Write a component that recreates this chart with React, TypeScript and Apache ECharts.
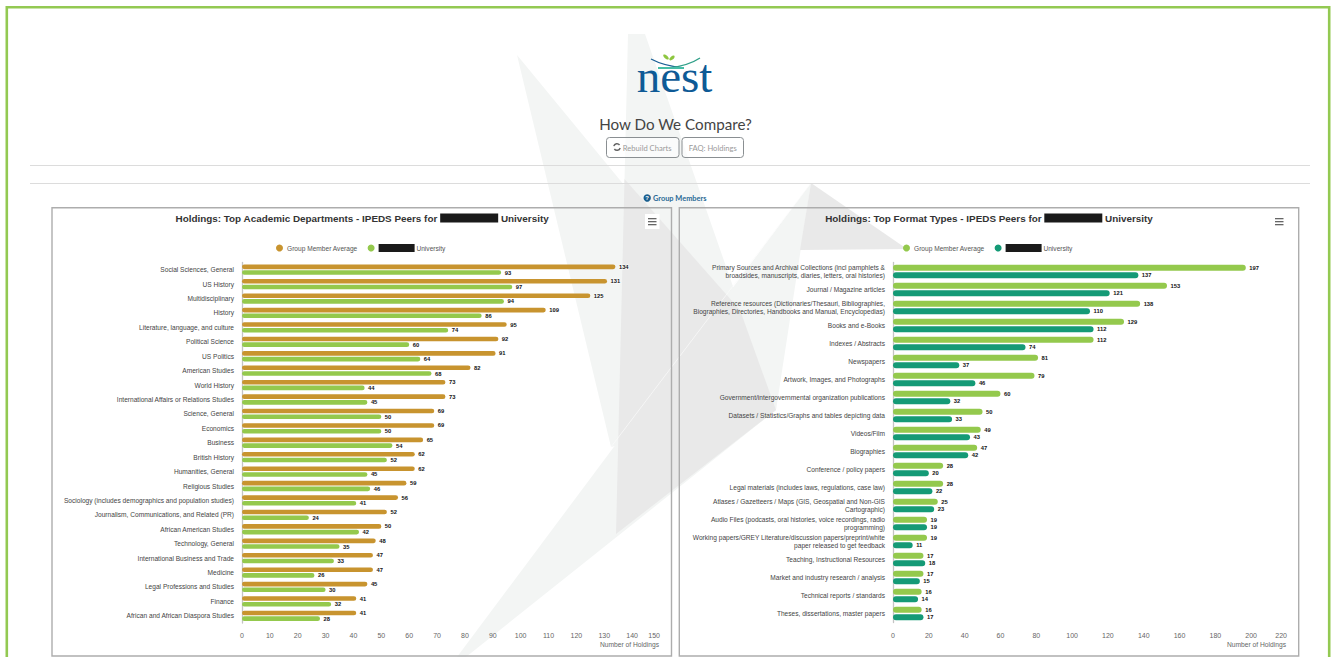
import React, { useEffect, useRef } from "react";
import * as echarts from "echarts";

const FONT = '"Liberation Sans", Arial, sans-serif';
const PAGE_FONT = 'Lato, "Noto Sans", sans-serif';

const deptCategories = [
  "Social Sciences, General", "US History", "Multidisciplinary", "History",
  "Literature, language, and culture", "Political Science", "US Politics", "American Studies",
  "World History", "International Affairs or Relations Studies", "Science, General", "Economics",
  "Business", "British History", "Humanities, General", "Religious Studies",
  "Sociology (includes demographics and population studies)", "Journalism, Communications, and Related (PR)",
  "African American Studies", "Technology, General", "International Business and Trade", "Medicine",
  "Legal Professions and Studies", "Finance", "African and African Diaspora Studies",
];
const deptAverage = [134, 131, 125, 109, 95, 92, 91, 82, 73, 73, 69, 69, 65, 62, 62, 59, 56, 52, 50, 48, 47, 47, 45, 41, 41];
const deptUniversity = [93, 97, 94, 86, 74, 60, 64, 68, 44, 45, 50, 50, 54, 52, 45, 46, 41, 24, 42, 35, 33, 26, 30, 32, 28];

const formatCategories = [
  "Primary Sources and Archival Collections (incl pamphlets &\nbroadsides, manuscripts, diaries, letters, oral histories)",
  "Journal / Magazine articles",
  "Reference resources (Dictionaries/Thesauri, Bibliographies,\nBiographies, Directories, Handbooks and Manual, Encyclopedias)",
  "Books and e-Books", "Indexes / Abstracts", "Newspapers", "Artwork, Images, and Photographs",
  "Government/intergovernmental organization publications",
  "Datasets / Statistics/Graphs and tables depicting data", "Videos/Film", "Biographies",
  "Conference / policy papers", "Legal materials (includes laws, regulations, case law)",
  "Atlases / Gazetteers / Maps (GIS, Geospatial and Non-GIS\nCartographic)",
  "Audio Files (podcasts, oral histories, voice recordings, radio\nprogramming)",
  "Working papers/GREY Literature/discussion papers/preprint/white\npaper released to get feedback",
  "Teaching, Instructional Resources", "Market and industry research / analysis",
  "Technical reports / standards", "Theses, dissertations, master papers",
];
const formatAverage = [197, 153, 138, 129, 112, 81, 79, 60, 50, 49, 47, 28, 28, 25, 19, 19, 17, 17, 16, 16];
const formatUniversity = [137, 121, 110, 112, 74, 37, 46, 32, 33, 43, 42, 20, 22, 23, 19, 11, 18, 15, 14, 17];

function chartOption(c: any) {
  const series = [
    { name: "Group Member Average", data: c.a, color: c.colorA },
    { name: "University", data: c.b, color: c.colorB },
  ].map((s) => ({
    type: "bar",
    name: s.name,
    data: s.data,
    barWidth: c.barWidth,
    barGap: c.barGap,
    itemStyle: { color: s.color, borderRadius: c.barWidth / 2 },
    label: {
      show: true, position: "right", distance: 3.5,
      fontFamily: FONT, fontSize: 5.8, fontWeight: "bold", color: "#111",
      textBorderColor: "#fff", textBorderWidth: 1,
    },
  }));
  return {
    animation: false,
    title: {
      text: `${c.title} {r|} University`,
      left: "center", top: 1,
      textStyle: {
        fontFamily: FONT, fontSize: 9.9, fontWeight: "bold", color: "#333",
        rich: { r: { backgroundColor: "#1a1a1a", width: 58, height: 9 } },
      },
    },
    legend: {
      left: c.legendLeft, top: 32, itemWidth: 7, itemHeight: 7, itemGap: 10,
      icon: "circle",
      textStyle: {
        fontFamily: FONT, fontSize: 6.6, color: "#555", padding: [0, 0, 0, -1],
        rich: { r: { backgroundColor: "#1a1a1a", width: 36, height: 8 } },
      },
      formatter: (n: string) => (n === "University" ? "{r|} University" : n),
    },
    grid: { left: c.gridLeft, top: 55.5, width: c.gridWidth, height: c.gridHeight },
    xAxis: {
      type: "value", min: 0, max: c.max, interval: c.interval,
      splitLine: { show: false }, axisLine: { show: false }, axisTick: { show: false },
      axisLabel: { fontFamily: FONT, fontSize: 7, color: "#666", margin: 9, alignMaxLabel: "right" },
      name: "Number of Holdings", nameLocation: "end", nameGap: 0,
      nameTextStyle: {
        fontFamily: FONT, fontSize: 6.7, color: "#666",
        align: "right", verticalAlign: "top", padding: [18, 1, 0, 0],
      },
    },
    yAxis: {
      type: "category", inverse: true, data: c.categories,
      axisLine: { show: true, lineStyle: { color: "#c4c4c4", width: 1.3 } },
      axisTick: { show: false },
      axisLabel: { fontFamily: FONT, fontSize: 6.6, color: "#444", margin: 8, lineHeight: 7.7, align: "right" },
    },
    graphic: {
      elements: [
        ...(c.menuBg ? [{ type: "rect", x: c.menuX - 3, y: 7, shape: { width: 14.5, height: 15 }, style: { fill: "#fff" } }] : []),
        ...[11, 14, 17].map((y) => ({
          type: "rect", x: c.menuX, y, shape: { width: 8.5, height: 1.3 }, style: { fill: "#666" },
        })),
      ],
    },
    series,
  };
}

const BG_SOFT = "#f3f5f4";
const BG_DARK = "#e9e9e9";
const txt = (x: number, y: number, text: string, font: string, fill: string, align = "left") => ({
  type: "text", x, y, silent: true,
  style: { text, font, fill, textAlign: align, textVerticalAlign: "middle" },
});
const poly = (points: number[][], fill: string) => ({ type: "polygon", shape: { points }, style: { fill } });
const btn = (x: number, w: number) => ({
  type: "rect", x, y: 137.5, shape: { width: w, height: 20, r: 3 },
  style: { fill: "rgba(255,255,255,0.6)", stroke: "#8a8f92", lineWidth: 1 },
});
const panel = (x: number, w: number) => ({
  type: "rect", x, y: 207.7, shape: { width: w, height: 448.3 },
  style: { fill: "none", stroke: "#adadad", lineWidth: 1.4 },
});
const hr = (y: number) => ({ type: "line", shape: { x1: 30, y1: y, x2: 1310, y2: y }, style: { stroke: "#dcdcdc", lineWidth: 1 } });

const pageOption = {
  animation: false,
  graphic: {
    elements: [
      { type: "rect", x: 0, y: 0, shape: { width: 1331, height: 657 }, style: { fill: "#fff" } },
      poly([[517, 55], [778, 372], [776, 410], [611, 447]], BG_SOFT),
      poly([[628, 34], [645, 34], [776, 410], [616, 534]], BG_SOFT),
      poly([[811, 183], [776, 410], [466, 657], [457, 657]], BG_SOFT),
      poly([[624.5, 179], [740, 310], [776, 410], [616, 534]], BG_DARK),
      poly([[811, 183], [907, 249], [800, 250]], BG_DARK),
      { type: "line", shape: { x1: 611, y1: 447, x2: 811, y2: 183 }, style: { stroke: "#fafafa", lineWidth: 0.7 } },
      { type: "rect", x: 6.8, y: 7.2, shape: { width: 1322.4, height: 660 }, style: { fill: "none", stroke: "#93c952", lineWidth: 2.6 } },
      hr(165.5), hr(183.5),
      // logo
      { type: "text", x: 674.5, y: 99, style: { text: "nest", font: '47px "Liberation Serif", serif', fill: "#0e5a96", textAlign: "center", textVerticalAlign: "bottom" } },
      { type: "bezierCurve", shape: { x1: 651, y1: 59, x2: 684, y2: 68, cpx1: 664, cpy1: 66 }, style: { stroke: "#1a5f96", lineWidth: 1.3, fill: "none" } },
      { type: "bezierCurve", shape: { x1: 700, y1: 58, x2: 668, y2: 68, cpx1: 688, cpy1: 66 }, style: { stroke: "#2f9f88", lineWidth: 1.3, fill: "none" } },
      { type: "line", shape: { x1: 658, y1: 68, x2: 684, y2: 68 }, style: { stroke: "#46bda6", lineWidth: 2 } },
      { type: "ellipse", rotation: -0.7, x: 666, y: 57, shape: { cx: 0, cy: 0, rx: 3.4, ry: 1.6 }, style: { fill: "#8dc63f" } },
      { type: "ellipse", rotation: 0.7, x: 672, y: 58, shape: { cx: 0, cy: 0, rx: 3.2, ry: 1.6 }, style: { fill: "#8dc63f" } },
      txt(675.5, 124, "How Do We Compare?", `15.2px ${PAGE_FONT}`, "#444", "center"),
      btn(606.5, 72.5), btn(682, 61.5),
      { type: "arc", shape: { cx: 617, cy: 147, r: 3.3, startAngle: 3.4, endAngle: 5.6 }, style: { stroke: "#666", lineWidth: 1.5, fill: "none" } },
      { type: "arc", shape: { cx: 617, cy: 147, r: 3.3, startAngle: 0.3, endAngle: 2.5 }, style: { stroke: "#666", lineWidth: 1.5, fill: "none" } },
      txt(622.8, 147.5, "Rebuild Charts", `7.6px ${PAGE_FONT}`, "#9a9a9a"),
      txt(712.7, 147.5, "FAQ: Holdings", `7.6px ${PAGE_FONT}`, "#9a9a9a", "center"),
      { type: "circle", shape: { cx: 647.2, cy: 198, r: 3.7 }, style: { fill: "#1a5e8e" } },
      txt(647.2, 198.2, "?", `bold 6px ${FONT}`, "#fff", "center"),
      txt(653, 198, "Group Members", `bold 7.4px ${PAGE_FONT}`, "#2a6a96"),
      panel(52, 619.5), panel(679.3, 619.4),
    ],
  },
};

const leftOption = chartOption({
  title: "Holdings: Top Academic Departments - IPEDS Peers for",
  categories: deptCategories, a: deptAverage, b: deptUniversity,
  colorA: "#c8942f", colorB: "#94c94d",
  barWidth: 4.6, barGap: "24%", max: 150, interval: 10,
  gridLeft: 190, gridWidth: 418, gridHeight: 360.5, legendLeft: 219, menuX: 596, menuBg: true,
});
const rightOption = chartOption({
  title: "Holdings: Top Format Types - IPEDS Peers for",
  categories: formatCategories, a: formatAverage, b: formatUniversity,
  colorA: "#94c94d", colorB: "#149a76",
  barWidth: 6, barGap: "22%", max: 220, interval: 20,
  gridLeft: 214, gridWidth: 394, gridHeight: 360, legendLeft: 219, menuX: 596,
});

function Chart({ option, style }: { option: any; style: React.CSSProperties }) {
  const ref = useRef<HTMLDivElement>(null);
  useEffect(() => {
    const chart = echarts.init(ref.current!, undefined, { renderer: "svg" });
    chart.setOption(option);
    return () => chart.dispose();
  }, [option]);
  return <div ref={ref} style={{ position: "absolute", ...style }} />;
}

export default function App() {
  return (
    <div style={{ position: "fixed", left: 0, top: 0, width: 1331, height: 657, overflow: "hidden", background: "#fff" }}>
      <Chart option={pageOption} style={{ left: 0, top: 0, width: 1331, height: 657 }} />
      <Chart option={leftOption} style={{ left: 52, top: 207, width: 620, height: 450 }} />
      <Chart option={rightOption} style={{ left: 679, top: 207, width: 620, height: 450 }} />
    </div>
  );
}
